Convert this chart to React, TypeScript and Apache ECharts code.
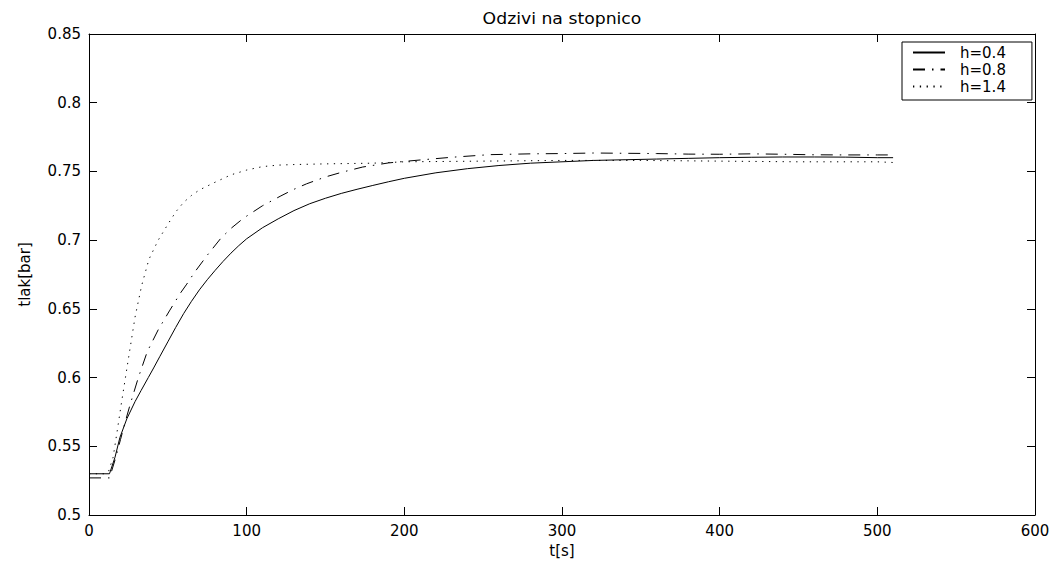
import React, { useEffect, useRef } from "react";
import * as echarts from "echarts";

const title = "Odzivi na stopnico";
const xName = "t[s]";
const yName = "tlak[bar]";
const seriesNames = ["h=0.4", "h=0.8", "h=1.4"];

const tSolid = [0, 13, 16.5, 19.6, 24, 29.2, 33, 37.6, 41, 45, 50, 55, 60, 65, 70, 75, 80, 85, 90, 95, 100, 110, 120, 130, 140, 150, 160, 170, 180, 190, 200, 220, 240, 260, 280, 300, 320, 340, 360, 380, 400, 420, 440, 460, 480, 500, 510];
const vSolid = [0.53, 0.53, 0.542, 0.5564, 0.57, 0.5825, 0.5905, 0.6, 0.607, 0.6155, 0.626, 0.6365, 0.6465, 0.6555, 0.6638, 0.6712, 0.678, 0.6845, 0.6905, 0.696, 0.701, 0.709, 0.7155, 0.7215, 0.7265, 0.7305, 0.734, 0.737, 0.7398, 0.7425, 0.745, 0.749, 0.752, 0.7543, 0.756, 0.757, 0.758, 0.7585, 0.759, 0.7595, 0.76, 0.7603, 0.7605, 0.7605, 0.7604, 0.76, 0.76];

const tDash = [0, 13, 16.5, 20, 22.8, 26, 31.3, 37, 44, 51, 57.7, 62, 67.2, 75, 83.5, 90, 98, 110, 121.7, 130, 138, 150, 160, 173.6, 190, 200, 211.7, 230, 254, 280, 300, 320, 340, 360, 380, 400, 420, 440, 460, 480, 500, 510];
const vDash = [0.527, 0.527, 0.54, 0.555, 0.567, 0.58, 0.6, 0.619, 0.635, 0.6485, 0.661, 0.668, 0.677, 0.689, 0.7012, 0.7085, 0.716, 0.725, 0.7322, 0.737, 0.741, 0.746, 0.7493, 0.7532, 0.7562, 0.7573, 0.7585, 0.7603, 0.7622, 0.7628, 0.763, 0.7634, 0.7632, 0.763, 0.7626, 0.7625, 0.7628, 0.7625, 0.7621, 0.762, 0.762, 0.762];

const tDot = [0, 10, 12.5, 15.3, 18, 20.7, 24.9, 29.2, 33.4, 38, 43.9, 50, 55, 60, 65, 70, 78.8, 90, 100, 110, 120, 130, 150, 180, 200, 250, 300, 350, 400, 450, 500, 510];
const vDot = [0.53, 0.53, 0.532, 0.542, 0.562, 0.5825, 0.613, 0.644, 0.667, 0.686, 0.7, 0.7115, 0.7205, 0.7275, 0.7325, 0.7365, 0.7415, 0.7475, 0.751, 0.7535, 0.7546, 0.755, 0.7555, 0.756, 0.757, 0.7575, 0.758, 0.758, 0.7575, 0.757, 0.757, 0.7565];

const FONT = "DejaVu Sans";

function pairs(t: number[], v: number[]) {
  return t.map((x, i) => [x, v[i]]);
}

export default function App() {
  const ref = useRef<HTMLDivElement>(null);
  useEffect(() => {
    if (!ref.current) return;
    const chart = echarts.init(ref.current, null, { renderer: "svg" });
    const axisCommon = {
      axisLine: { show: true, onZero: false, lineStyle: { color: "#000", width: 1 } },
      axisTick: { show: true, inside: true, length: 8, lineStyle: { color: "#000", width: 1 } },
      splitLine: { show: false },
    };
    const lineBase = { type: "line", symbol: "none", showSymbol: false, smooth: false, color: "#000" };
    chart.setOption({
      animation: false,
      backgroundColor: "#fff",
      textStyle: { fontFamily: FONT },
      grid: { left: 89, right: 25, top: 34, bottom: 37, containLabel: false },
      graphic: [
        {
          type: "text",
          x: 562,
          y: 11,
          scaleX: 1.15,
          originX: 0,
          originY: 0,
          style: { text: title, fontFamily: FONT, fontSize: 15, fill: "#000", textAlign: "center", textVerticalAlign: "top" },
        },
      ],
      legend: {
        orient: "vertical",
        left: 902,
        top: 42,
        itemWidth: 32,
        itemHeight: 12,
        itemGap: 2,
        padding: [3, 26, 6, 10],
        backgroundColor: "#fff",
        borderColor: "#000",
        borderWidth: 1,
        borderRadius: 0,
        itemStyle: { opacity: 0 },
        textStyle: { fontFamily: FONT, fontSize: 15, color: "#000", padding: [0, 0, 0, 10] },
        data: seriesNames,
      },
      xAxis: [
        {
          type: "value",
          min: 0,
          max: 600,
          interval: 100,
          position: "bottom",
          name: xName,
          nameLocation: "middle",
          nameGap: 28,
          nameTextStyle: { fontFamily: FONT, fontSize: 15, color: "#000" },
          axisLabel: { color: "#000", fontFamily: FONT, fontSize: 15, margin: 8 },
          ...axisCommon,
        },
        {
          type: "value",
          min: 0,
          max: 600,
          interval: 100,
          position: "top",
          axisLabel: { show: false },
          ...axisCommon,
        },
      ],
      yAxis: [
        {
          type: "value",
          min: 0.5,
          max: 0.85,
          interval: 0.05,
          position: "left",
          name: yName,
          nameLocation: "middle",
          nameGap: 57,
          nameRotate: 90,
          nameTextStyle: { fontFamily: FONT, fontSize: 15, color: "#000" },
          axisLabel: {
            color: "#000",
            fontFamily: FONT,
            fontSize: 15,
            margin: 8,
            formatter: (v: number) => String(+v.toFixed(2)),
          },
          ...axisCommon,
        },
        {
          type: "value",
          min: 0.5,
          max: 0.85,
          interval: 0.05,
          position: "right",
          axisLabel: { show: false },
          ...axisCommon,
        },
      ],
      series: [
        {
          ...lineBase,
          name: seriesNames[0],
          data: pairs(tSolid, vSolid),
          lineStyle: { color: "#000", width: 1, type: "solid" },
        },
        {
          ...lineBase,
          name: seriesNames[1],
          data: pairs(tDash, vDash),
          lineStyle: { color: "#000", width: 1, type: [12, 7, 1.5, 7] },
        },
        {
          ...lineBase,
          name: seriesNames[2],
          data: pairs(tDot, vDot),
          lineStyle: { color: "#000", width: 1, type: [1.3, 5.5] },
        },
      ],
    });
    return () => chart.dispose();
  }, []);
  return (
    <div
      ref={ref}
      style={{ position: "fixed", left: 0, top: 0, width: 1060, height: 563, background: "#fff" }}
    />
  );
}
